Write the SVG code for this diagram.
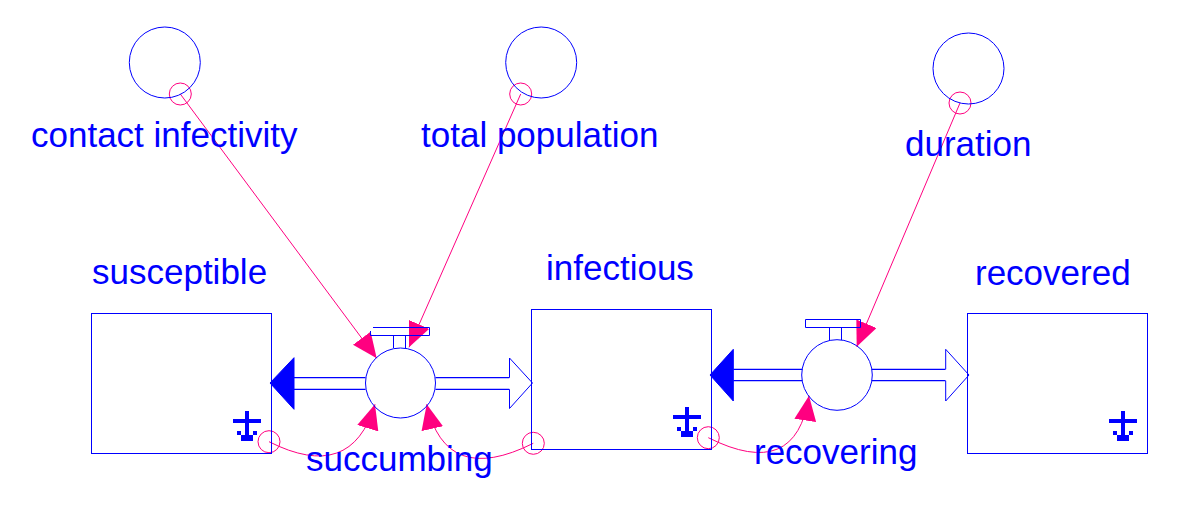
<svg xmlns="http://www.w3.org/2000/svg" width="1184" height="506" viewBox="0 0 1184 506">
<style>
.lbl{font-family:"Liberation Sans",Arial,sans-serif;font-size:35px;fill:#0000FF}
.blue{fill:none;stroke:#0000FF;stroke-width:1}
.stock{fill:#FFFFFF;stroke:#0000FF;stroke-width:1}
.pipe{fill:none;stroke:#0000FF;stroke-width:1.2}
.head{fill:#0000FF;stroke:#0000FF;stroke-width:1}
.ohead{fill:#FFFFFF;stroke:#0000FF;stroke-width:1}
.link{fill:none;stroke:#FF0080;stroke-width:1}
.src{fill:none;stroke:#FF0080;stroke-width:1}
</style>
<defs>
<marker id="arr" viewBox="0 0 25 22" refX="25" refY="11" markerWidth="25" markerHeight="22" markerUnits="userSpaceOnUse" orient="auto">
<path d="M0,0 L25,11 L0,22 z" fill="#FF0080"/>
</marker>
<g id="tick" fill="#0000FF">
<rect x="-38" y="-34" width="28" height="4"/>
<rect x="-26" y="-42" width="4" height="24"/>
<rect x="-34" y="-22" width="4" height="4"/>
<rect x="-18" y="-22" width="4" height="4"/>
<rect x="-30" y="-18" width="12" height="6"/>
</g>
</defs>
<rect width="1184" height="506" fill="#FFFFFF"/>

<g id="connectors">
<!-- flow pipes -->
<path class="pipe" d="M294,377.7 H365.5 M294,389.3 H365.5"/>
<polygon class="head" points="270,383 294,357.7 294,409.3"/>
<path class="pipe" d="M435.5,377.7 H509.5 M435.5,389.3 H509.5"/>
<path class="ohead" d="M509.5,377.7 V358 L532.5,383 L509.5,408.5 V389.3"/>
<path class="pipe" d="M733.3,369.3 H802.3 M733.3,380.7 H802.3"/>
<polygon class="head" points="710,375 733.3,349.3 733.3,401"/>
<path class="pipe" d="M871.7,369.3 H945.7 M871.7,380.7 H945.7"/>
<path class="ohead" d="M945.7,369.3 V349.3 L969,375 L945.7,401 V380.7"/>
<!-- info links -->
<circle class="src" cx="180.3" cy="94" r="11"/>
<line class="link" x1="180.3" y1="94" x2="376.7" y2="358.3" marker-end="url(#arr)"/>
<circle class="src" cx="520.7" cy="94" r="11"/>
<line class="link" x1="520.7" y1="94" x2="409" y2="347.3" marker-end="url(#arr)"/>
<circle class="src" cx="960" cy="103" r="11"/>
<line class="link" x1="960" y1="103" x2="856.7" y2="346.7" marker-end="url(#arr)"/>
<circle class="src" cx="269" cy="441.7" r="11"/>
<path class="link" d="M269,441.7 Q351.2,483.1 375,404.3" marker-end="url(#arr)"/>
<circle class="src" cx="533.3" cy="443.3" r="11"/>
<path class="link" d="M533.3,443.3 Q445.7,487.1 426.7,404.3" marker-end="url(#arr)"/>
<circle class="src" cx="708.3" cy="437.7" r="11"/>
<path class="link" d="M708.3,437.7 Q796,481.5 809,395.7" marker-end="url(#arr)"/>
</g>

<g id="susceptible">
<rect class="stock" x="91.5" y="313.5" width="180" height="140" fill-opacity="0"/>
<use href="#tick" x="271" y="453"/>
<text class="lbl" x="92" y="284">susceptible</text>
</g>

<g id="infectious">
<rect class="stock" x="531.5" y="309.5" width="180" height="140" fill-opacity="0"/>
<use href="#tick" x="711" y="449"/>
<text class="lbl" x="546" y="280">infectious</text>
</g>

<g id="recovered">
<rect class="stock" x="967.5" y="313.5" width="180" height="140" fill-opacity="0"/>
<use href="#tick" x="1147" y="453"/>
<text class="lbl" x="975" y="285">recovered</text>
</g>

<g id="succumbing">
<path class="blue" d="M373,327.5 H429.5 V335.5 H370.5 V331 M393.5,335.5 V348 M405.5,335.5 V348"/>
<circle class="blue" cx="400.5" cy="383" r="35"/>
<text class="lbl" x="306" y="471">succumbing</text>
</g>

<g id="recovering">
<path class="blue" d="M805.5,319.5 H860.5 V327.5 H805.5 Z M829.5,327.5 V340 M841.5,327.5 V340"/>
<circle class="blue" cx="837" cy="375" r="35.3"/>
<text class="lbl" x="754" y="464">recovering</text>
</g>

<g id="contact_infectivity">
<circle class="blue" cx="164.8" cy="62.5" r="35.5"/>
<text class="lbl" x="31" y="147">contact infectivity</text>
</g>

<g id="total_population">
<circle class="blue" cx="541.2" cy="62.5" r="35.5"/>
<text class="lbl" x="421" y="147">total population</text>
</g>

<g id="duration">
<circle class="blue" cx="968.5" cy="68.5" r="35.5"/>
<text class="lbl" x="905" y="156">duration</text>
</g>
</svg>
